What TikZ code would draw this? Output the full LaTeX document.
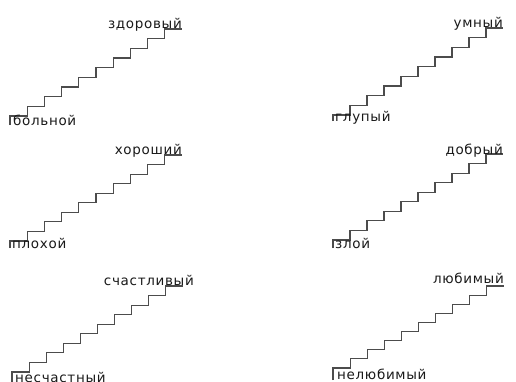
\documentclass[tikz,border=0pt]{standalone}
\usepackage{fontspec}
\setmainfont{DejaVu Sans}[LetterSpace=5]
\newcommand\mystairs[5]{%
  \draw[stairline] (#1,#5) -- (#1,#2)
    \foreach \i in {1,...,9}{ -- ({#1+\i*(#4-#1)/10},{#2-(\i-1)*(#2-#3)/9}) -- ({#1+\i*(#4-#1)/10},{#2-\i*(#2-#3)/9}) }
    -- (#4,#3);}
\begin{document}
\begin{tikzpicture}[x=1pt,y=-1pt,
  stairline/.style={line width=1.1pt,draw=black!70,line join=miter},
  word/.style={inner sep=0pt,font=\fontsize{13.5}{15}\selectfont,text=black!90}]
\useasboundingbox (0,0) rectangle (516,381);
\clip (0,0) rectangle (516,381);
% top-left
\mystairs{10}{116}{29}{182}{125}
\node[word,anchor=base east] (tlh) at (182,28) {здоровый};
\node[word,anchor=base west] (tll) at (13,125) {больной};
% top-right
\mystairs{333}{115}{28}{503}{121}
\node[word,anchor=base east] (trh) at (503,27) {умный};
\node[word,anchor=base west] (trl) at (335,121) {глупый};
% middle-left
\mystairs{10}{241}{155}{182}{248}
\node[word,anchor=base east] (mlh) at (182,154) {хороший};
\node[word,anchor=base west] (mll) at (12,248) {плохой};
% middle-right
\mystairs{333}{240}{154}{503}{248}
\node[word,anchor=base east] (mrh) at (503,154) {добрый};
\node[word,anchor=base west] (mrl) at (335,248) {злой};
% bottom-left
\mystairs{12}{372}{286}{183}{384}
\node[word,anchor=base east] (blh) at (194,285) {счастливый};
\node[word,anchor=base west] (bll) at (15,382.5) {несчастный};
% bottom-right
\mystairs{333}{368}{286}{504}{380}
\node[word,anchor=base east] (brh) at (504,283) {любимый};
\node[word,anchor=base west] (brl) at (337,379) {нелюбимый};
\end{tikzpicture}
\end{document}
